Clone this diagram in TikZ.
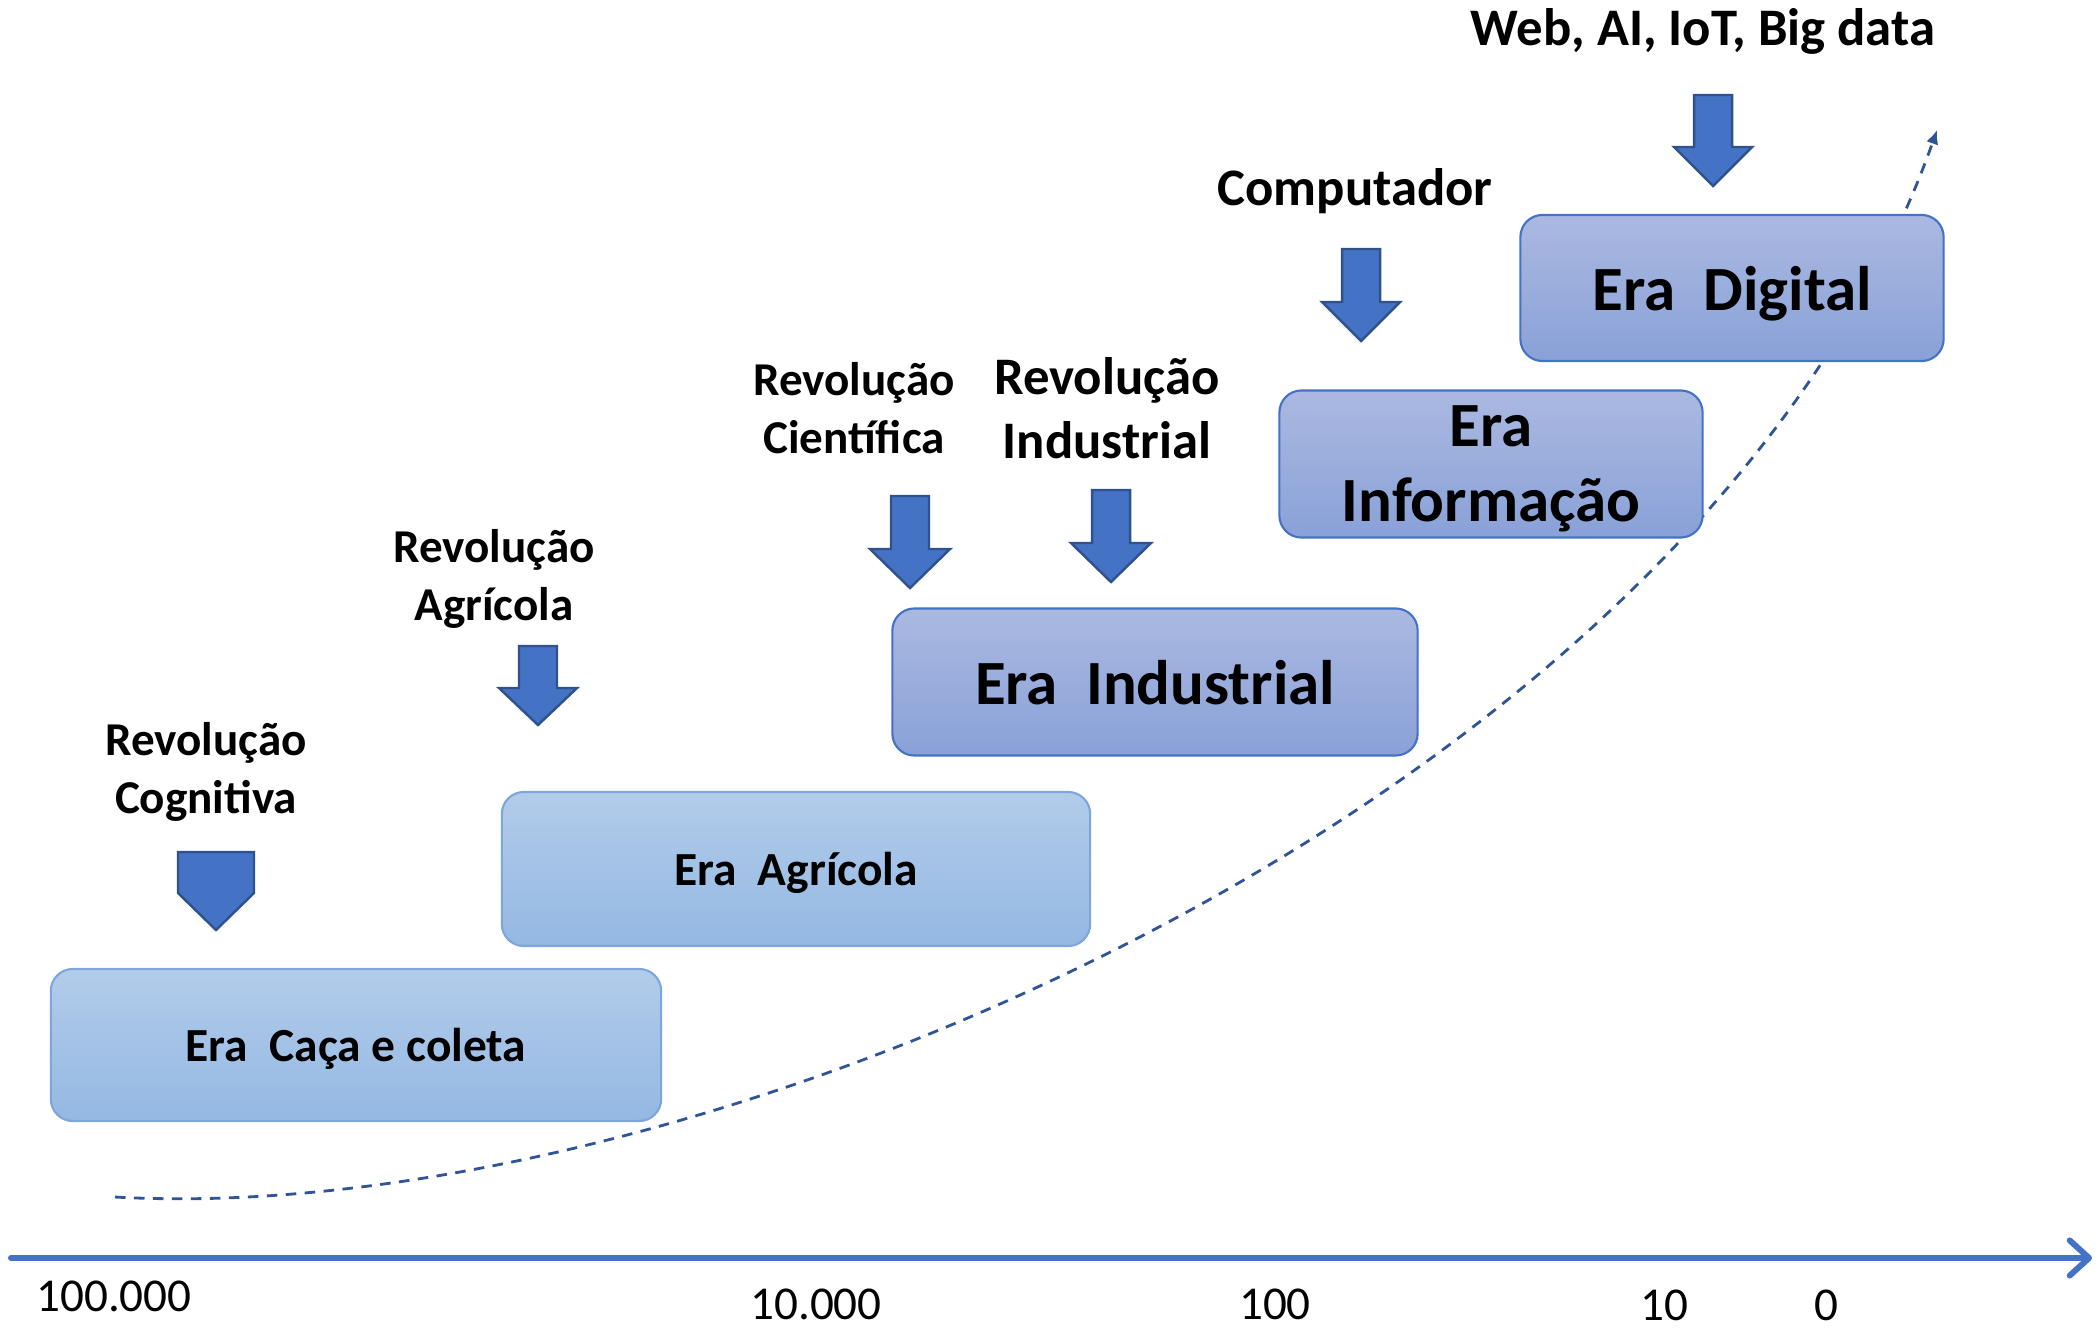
\documentclass[tikz,border=0pt]{standalone}
\usepackage{fontspec}
\setmainfont{Carlito}
\usetikzlibrary{arrows.meta,positioning}
\definecolor{accentblue}{RGB}{68,114,196}
\definecolor{darkblue}{RGB}{47,82,143}
\definecolor{palebluetop}{RGB}{178,204,234}
\definecolor{palebluebot}{RGB}{148,184,227}
\definecolor{paleblueline}{RGB}{126,166,218}
\definecolor{lilactop}{RGB}{171,185,225}
\definecolor{lilacbot}{RGB}{137,161,216}
\definecolor{trendblue}{RGB}{47,85,151}
% block arrow pointing down: centre x, top, shoulder, tip, half shaft, half head
\newcommand{\downblock}[6]{%
  \draw[blockarrow] ({#1-#5},#2) -- ({#1+#5},#2) -- ({#1+#5},#3) -- ({#1+#6},#3)
    -- (#1,#4) -- ({#1-#6},#3) -- ({#1-#5},#3) -- cycle;}

\begin{document}
\begin{tikzpicture}[x=0.01cm, y=-0.01cm,
        era/.style={draw=paleblueline, line width=0.6pt, rounded corners=0.22cm, top color=palebluetop, bottom color=palebluebot, align=center, inner sep=0pt, text depth=0pt, font=\bfseries\fontsize{13.5pt}{16pt}\selectfont},
        bigera/.style={era, draw=accentblue, top color=lilactop, bottom color=lilacbot, font=\bfseries\fontsize{17.9pt}{21.3pt}\selectfont},
        revlabel/.style={align=center, inner sep=0pt, font=\bfseries\fontsize{13.4pt}{16.4pt}\selectfont},
        toplabel/.style={align=center, inner sep=0pt, font=\bfseries\fontsize{15pt}{18.2pt}\selectfont},
        yearlabel/.style={inner sep=0pt, font=\fontsize{13.4pt}{16pt}\selectfont},
        blockarrow/.style={fill=accentblue, draw=darkblue, line width=0.7pt, line join=miter},
        timeaxis/.style={draw=accentblue, line width=1.7pt, line cap=round, -{Straight Barb[length=5.5pt, width=10pt, round]}},
        trend/.style={draw=trendblue, line width=0.8pt, dash pattern=on 3pt off 2.4pt, -{Latex[length=4pt, width=3.6pt]}}
    ]
        \useasboundingbox (0,0) rectangle (2098,1328);

        % Growth curve (behind the boxes)
        \coordinate (cstart) at (115,1197);
        \coordinate (cend) at (1937,130);
        \draw[trend] (cstart) .. controls (700,1230) and (1700,800) .. (cend);

        % Eras
        \node[era, minimum width=6.1cm, minimum height=1.52cm] (caca) at (356,1045) {Era~~Caça e coleta};
        \node[era, minimum width=5.88cm, minimum height=1.54cm] (agricola) at (796,869) {Era~~Agrícola};
        \node[bigera, minimum width=5.25cm, minimum height=1.47cm] (industrial) at (1155,682) {Era~~Industrial};
        \node[bigera, minimum width=4.23cm, minimum height=1.47cm] (informacao) at (1491,464) {Era\\Informação};
        \node[bigera, minimum width=4.23cm, minimum height=1.46cm] (digital) at (1732,288) {Era~~Digital};

        % Revolutions
        \node[revlabel] (cognitiva) at (206,772) {Revolução\\Cognitiva};
        \node[revlabel] (revagricola) at (494,579) {Revolução\\Agrícola};
        \node[revlabel] (cientifica) at (854,408) {Revolução\\Científica};
        \node[toplabel] (revindustrial) at (1107,408) {Revolução\\Industrial};
        \node[toplabel] (computador) at (1355,191) {Computador};
        \node[toplabel] (web) at (1703,31) {Web, AI, IoT, Big data};

        % Block arrows
        \downblock{216}{852}{893}{930}{38}{38}
        \downblock{538}{646}{688}{725}{19}{39}
        \downblock{910}{496}{549}{588}{19}{40}
        \downblock{1111}{490}{543}{582}{19}{40}
        \downblock{1361}{249}{302}{341}{19}{39}
        \downblock{1713}{95}{147}{186}{19}{39}

        % Time axis
        \coordinate (axisstart) at (11,1258);
        \coordinate (axisend) at (2092,1258);
        \draw[timeaxis] (axisstart) -- (axisend);

        \node[yearlabel] (y100k) at (114,1296) {100.000};
        \node[yearlabel] (y10k) at (816,1304) {10.000};
        \node[yearlabel] (y100) at (1275,1304) {100};
        \node[yearlabel] (y10) at (1664,1305) {10};
        \node[yearlabel] (y0) at (1826,1305) {0};
    \end{tikzpicture}
\end{document}
